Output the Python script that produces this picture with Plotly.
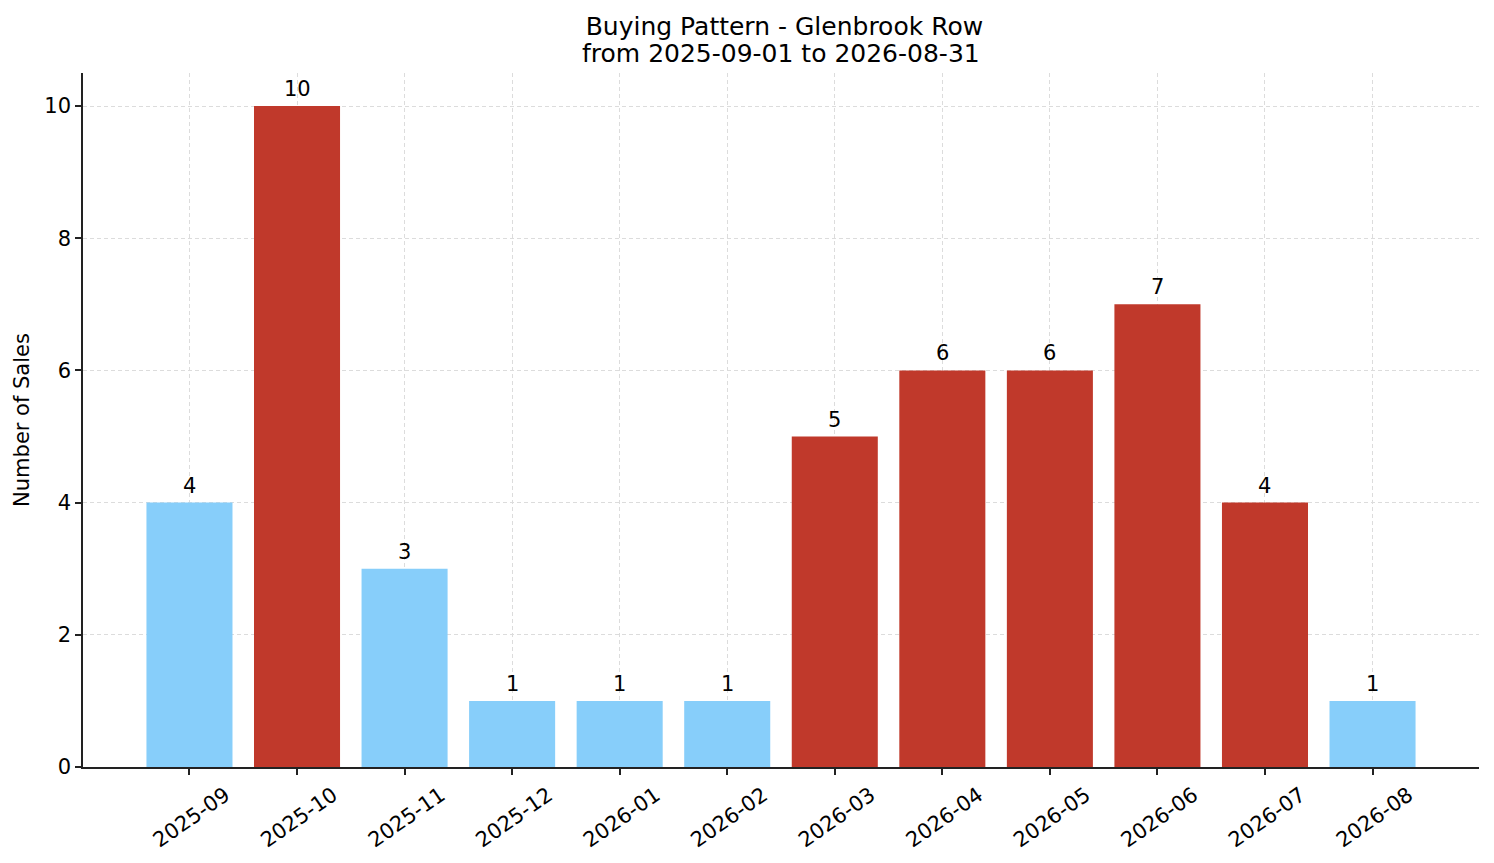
import plotly.graph_objects as go

months = ['2025-09', '2025-10', '2025-11', '2025-12', '2026-01', '2026-02',
          '2026-03', '2026-04', '2026-05', '2026-06', '2026-07', '2026-08']
sales = [4, 10, 3, 1, 1, 1, 5, 6, 6, 7, 4, 1]
bar_colors = ['#87CEFA', '#C0392B', '#87CEFA', '#87CEFA', '#87CEFA', '#87CEFA',
              '#C0392B', '#C0392B', '#C0392B', '#C0392B', '#C0392B', '#87CEFA']
title_line1 = 'Buying Pattern - Glenbrook Row'
title_line2 = 'from 2025-09-01 to 2026-08-31'

font_family = 'DejaVu Sans, sans-serif'

data = [go.Bar(x=months, y=sales,
               width=0.8,
               marker=dict(color=bar_colors, line=dict(width=0)))]

# value labels above each bar
labels = [dict(x=m, y=v, text=str(v), showarrow=False,
               xanchor='center', yanchor='bottom', yshift=3,
               font=dict(size=21, color='black', family=font_family))
          for m, v in zip(months, sales)]

# second title line, placed by hand for tighter line spacing
labels.append(dict(x=0.5, y=1, xref='paper', yref='paper', text=title_line2,
                   showarrow=False, xanchor='center', yanchor='middle', yshift=20,
                   font=dict(size=25, color='black', family=font_family)))

# page body has an 8px margin, so the figure is a bit smaller than the window
layout = go.Layout(
    title=dict(text=title_line1,
               x=0.5225, xanchor='center', yref='container', y=1 - 18 / 855, yanchor='middle',
               font=dict(size=25, color='black', family=font_family)),
    width=1486, height=855,
    margin=dict(l=75, r=15, t=65, b=96),
    paper_bgcolor='white', plot_bgcolor='white',
    font=dict(family=font_family, color='black'),
    showlegend=False,
    annotations=labels,
    xaxis=dict(type='category', range=[-0.99, 11.99], automargin=False,
               tickangle=-35, tickfont=dict(size=21, color='black'),
               ticklabelshift=36,
               ticks='outside', ticklen=6, tickwidth=1.5, tickcolor='#222',
               showline=True, linecolor='#222', linewidth=1.5,
               showgrid=True, gridcolor='#dcdcdc', gridwidth=0.8, griddash='4px,3px',
               layer='above traces', zeroline=False),
    yaxis=dict(range=[0, 10.5], tickvals=[0, 2, 4, 6, 8, 10], automargin=False,
               tickfont=dict(size=21, color='black'),
               ticks='outside', ticklen=6, tickwidth=1.5, tickcolor='#222',
               showline=True, linecolor='#222', linewidth=1.5,
               showgrid=True, gridcolor='#dcdcdc', gridwidth=0.8, griddash='4px,3px',
               layer='above traces', zeroline=False,
               title=dict(text='Number of Sales', font=dict(size=21, color='black'),
                          standoff=9)),
)

fig = go.Figure(data=data, layout=layout)
fig.write_html('out.html')
